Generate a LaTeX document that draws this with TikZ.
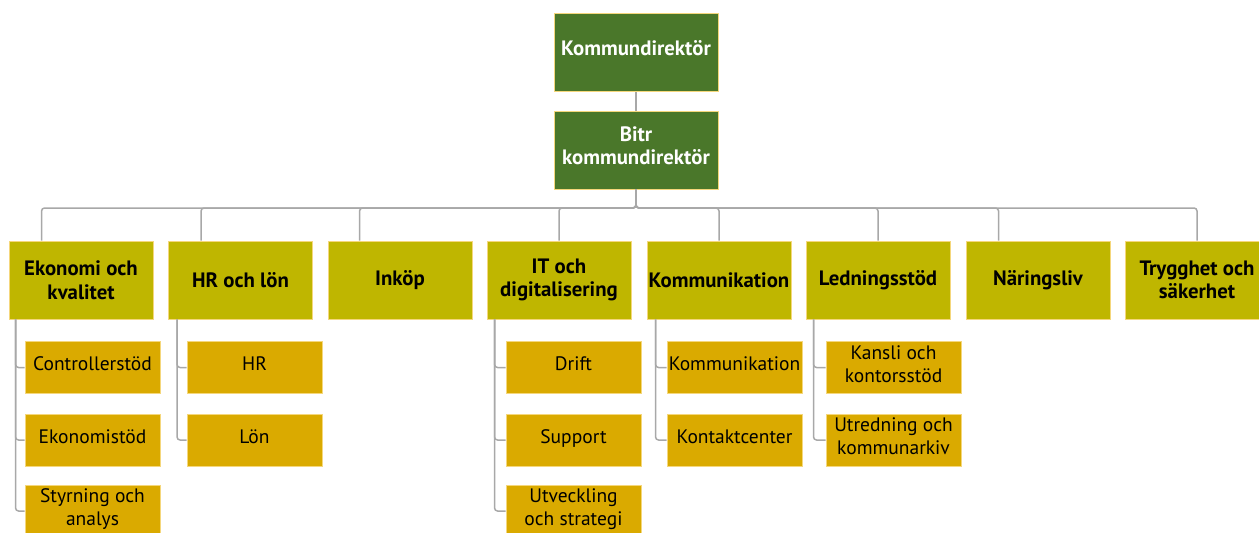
\documentclass[tikz,border=0pt]{standalone}
\usepackage{fontspec}
\setmainfont{PT Sans}
\usetikzlibrary{calc}
\definecolor{chefgreen}{HTML}{4A772A}
\definecolor{deptolive}{HTML}{BFB600}
\definecolor{unitgold}{HTML}{DAAA00}
\definecolor{boxedge}{HTML}{F5D77C}
\definecolor{linkgray}{HTML}{A8A8A8}
\tikzset{
  box/.style={draw=boxedge, line width=0.9pt, align=center, inner sep=0pt},
  chef/.style={box, fill=chefgreen, text=white, minimum width=164pt, minimum height=78pt,
    text depth=9pt, font=\bfseries\fontsize{20.8}{23.5}\selectfont},
  dept/.style={box, fill=deptolive, minimum width=144pt, minimum height=78pt,
    font=\bfseries\fontsize{20.8}{23.5}\selectfont},
  unit/.style={box, fill=unitgold, minimum width=135pt, minimum height=52pt,
    text depth=7pt, font=\fontsize{19.5}{23}\selectfont},
  link/.style={draw=linkgray, line width=1.5pt, rounded corners=3pt}
}
\begin{document}
\begin{tikzpicture}[x=1pt, y=-1pt]
    \useasboundingbox (0,0) rectangle (1259,533);

    \node[chef] (kd) at (636,52.5) {Kommundirektör};
    \node[chef] (bkd) at (636,150) {Bitr\\kommundirektör};
    \coordinate (bus) at (636,208);

    \node[dept] (eko) at (81,280) {Ekonomi och\\kvalitet};
    \node[dept] (hr) at (240.5,280) {HR och lön};
    \node[dept] (ink) at (400,280) {Inköp};
    \node[dept] (it) at (559,280) {IT och\\digitalisering};
    \node[dept] (komm) at (719,280) {Kommunikation};
    \node[dept] (ledn) at (878,280) {Ledningsstöd};
    \node[dept] (nar) at (1038,280) {Näringsliv};
    \node[dept] (tryg) at (1197,280) {Trygghet och\\säkerhet};

    % enheter
    \node[unit] (ctrl) at (92.5,367.5) {Controllerstöd};
    \node[unit] (ekst) at (92.5,440) {Ekonomistöd};
    \node[unit] (styr) at (92.5,511) {Styrning och\\analys};
    \node[unit] (hrs) at (254.5,367.5) {HR};
    \node[unit] (lon) at (254.5,440) {Lön};
    \node[unit] (drift) at (573.5,367.5) {Drift};
    \node[unit] (supp) at (573.5,440) {Support};
    \node[unit] (utv) at (573.5,511) {Utveckling\\och strategi};
    \node[unit] (kommu) at (734.5,367.5) {Kommunikation};
    \node[unit] (kont) at (734.5,440) {Kontaktcenter};
    \node[unit] (kans) at (893.5,367.5) {Kansli och\\kontorsstöd};
    \node[unit] (utr) at (893.5,440) {Utredning och\\kommunarkiv};

    \draw[link] (kd) -- (bkd);
    \draw[link] (bkd) -- (bus) -| ($(eko.north west)+(33,0)$);
    \draw[link] (bkd) -- (bus) -| ($(hr.north west)+(33,0)$);
    \draw[link] (bkd) -- (bus) -| ($(ink.north west)+(32,0)$);
    \draw[link] (bkd) -- (bus) -| (it.north);
    \draw[link] (bkd) -- (bus) -| (komm.north);
    \draw[link] (bkd) -- (bus) -| (ledn.north);
    \draw[link] (bkd) -- (bus) -| ($(nar.north west)+(33,0)$);
    \draw[link] (bkd) -- (bus) -| (tryg.north);

    \draw[link] ($(eko.south west)+(7,0)$) |- (ctrl.west);
    \draw[link] ($(eko.south west)+(7,0)$) |- (ekst.west);
    \draw[link] ($(eko.south west)+(7,0)$) |- (styr.west);
    \draw[link] ($(hr.south west)+(9,0)$) |- (hrs.west);
    \draw[link] ($(hr.south west)+(9,0)$) |- (lon.west);
    \draw[link] ($(it.south west)+(8,0)$) |- (drift.west);
    \draw[link] ($(it.south west)+(8,0)$) |- (supp.west);
    \draw[link] ($(it.south west)+(8,0)$) |- (utv.west);
    \draw[link] ($(komm.south west)+(9,0)$) |- (kommu.west);
    \draw[link] ($(komm.south west)+(9,0)$) |- (kont.west);
    \draw[link] ($(ledn.south west)+(8,0)$) |- (kans.west);
    \draw[link] ($(ledn.south west)+(8,0)$) |- (utr.west);
\end{tikzpicture}
\end{document}
